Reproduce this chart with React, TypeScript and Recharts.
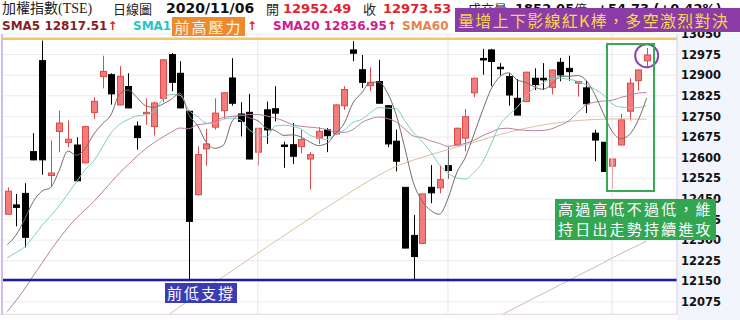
import React from "react";
import {
  ComposedChart,
  Bar,
  Line,
  XAxis,
  YAxis,
  CartesianGrid,
  ReferenceLine,
  ReferenceDot,
} from "recharts";

// trading days, 2020/07/22 .. 2020/11/06
const dates = [
  "07/22", "07/23", "07/24", "07/27", "07/28", "07/29", "07/30", "07/31",
  "08/03", "08/04", "08/05", "08/06", "08/07", "08/10", "08/11", "08/12", "08/13", "08/14",
  "08/17", "08/18", "08/19", "08/20", "08/21", "08/24", "08/25", "08/26", "08/27", "08/28", "08/31",
  "09/01", "09/02", "09/03", "09/04", "09/07", "09/08", "09/09", "09/10", "09/11", "09/14", "09/15",
  "09/16", "09/17", "09/18", "09/21", "09/22", "09/23", "09/24", "09/25", "09/28", "09/29", "09/30",
  "10/05", "10/06", "10/07", "10/08", "10/12", "10/13", "10/14", "10/15", "10/16", "10/19", "10/20",
  "10/21", "10/22", "10/23", "10/26", "10/27", "10/28", "10/29", "10/30",
  "11/02", "11/03", "11/04", "11/05", "11/06",
];

const opens = [
  12394, 12428, 12470, 12622, 12953, 12535, 12695, 12655, 12646, 12581,
  12764, 12895, 12902, 12792, 12859, 12715, 12762, 12713, 12816, 12975,
  12907, 12769, 12465, 12632, 12711, 12771, 12890, 12759, 12765, 12620,
  12774, 12778, 12646, 12647, 12640, 12595, 12671, 12701, 12686, 12789,
  12992, 12920, 12862, 12877, 12789, 12660, 12492, 12317, 12288, 12492,
  12490, 12571, 12646, 12671, 12836, 12961, 12992, 12929, 12895, 12816,
  12804, 12889, 12889, 12856, 12947, 12925, 12871, 12854, 12689, 12656,
  12569, 12646, 12769, 12880, 12952.49,
];
const highs = [
  12492, 12468, 12507, 12689, 13026, 12662, 12771, 12735, 12674, 12716,
  12820, 12971, 12907, 12933, 12907, 12732, 12816, 12804, 12959, 12981,
  12951, 12771, 12641, 12705, 12816, 12838, 12962, 12802, 12832, 12708,
  12804, 12860, 12658, 12726, 12702, 12620, 12711, 12708, 12794, 12860,
  13024, 12974, 12929, 12956, 12790, 12702, 12493, 12391, 12469, 12573,
  12573, 12638, 12709, 12777, 12891, 12996, 12996, 12944, 12907, 12886,
  12913, 12925, 12944, 12921, 12963, 12971, 12879, 12880, 12701, 12657,
  12597, 12759, 12889, 12921, 12999,
];
const lows = [
  12394, 12350, 12273, 12590, 12538, 12492, 12620, 12638, 12513, 12579,
  12741, 12852, 12793, 12790, 12780, 12629, 12720, 12681, 12802, 12842,
  12780, 12155, 12463, 12571, 12702, 12741, 12789, 12677, 12594, 12571,
  12650, 12732, 12563, 12577, 12616, 12484, 12650, 12620, 12684, 12774,
  12951, 12854, 12842, 12797, 12638, 12550, 12270, 12155, 12286, 12434,
  12470, 12523, 12644, 12623, 12820, 12902, 12860, 12899, 12789, 12754,
  12802, 12846, 12846, 12830, 12878, 12880, 12822, 12762, 12587, 12550,
  12486, 12645, 12735, 12844, 12931,
];
const closes = [
  12478, 12419, 12310, 12592, 12592, 12544, 12726, 12667, 12516, 12713,
  12805, 12914, 12832, 12896, 12781, 12673, 12765, 12799, 12956, 12874,
  12781, 12368, 12611, 12650, 12762, 12836, 12798, 12732, 12595, 12707,
  12701, 12762, 12641, 12605, 12666, 12611, 12696, 12680, 12792, 12848,
  12980, 12874, 12874, 12798, 12650, 12587, 12271, 12240, 12468, 12472,
  12520, 12553, 12707, 12749, 12889, 12956, 12950, 12924, 12828, 12755,
  12911, 12866, 12883, 12919, 12901, 12913, 12877, 12796, 12664, 12550,
  12595, 12738, 12871, 12919, 12973.53,
];

const sma5 = [
  12283, 12318, 12375, 12440, 12478, 12491, 12553, 12624, 12609, 12633,
  12685, 12723, 12756, 12832, 12846, 12819, 12789, 12783, 12795, 12813,
  12835, 12756, 12718, 12657, 12634, 12645, 12731, 12756, 12745, 12734,
  12707, 12699, 12681, 12683, 12675, 12657, 12644, 12652, 12689, 12725,
  12799, 12835, 12874, 12875, 12835, 12757, 12636, 12509, 12443, 12408,
  12394, 12451, 12544, 12600, 12684, 12771, 12850, 12894, 12909, 12883,
  12874, 12857, 12849, 12867, 12896, 12896, 12899, 12881, 12830, 12760,
  12696, 12669, 12684, 12735, 12817.51,
];
const sma10 = [
  12235, 12255, 12275, 12312, 12352, 12388, 12425, 12468, 12512, 12556,
  12588, 12638, 12690, 12721, 12739, 12752, 12756, 12769, 12813, 12830,
  12827, 12773, 12750, 12726, 12724, 12740, 12744, 12737, 12701, 12684,
  12676, 12715, 12718, 12714, 12704, 12682, 12672, 12666, 12686, 12700,
  12728, 12739, 12763, 12782, 12780, 12778, 12735, 12691, 12659, 12621,
  12575, 12543, 12527, 12522, 12546, 12583, 12650, 12719, 12755, 12783,
  12822, 12854, 12871, 12888, 12889, 12885, 12878, 12865, 12849, 12828,
  12796, 12784, 12782, 12782, 12789.7,
];
const sma20 = [
  12040, 12080, 12122, 12170, 12215, 12262, 12305, 12345, 12380, 12410,
  12440, 12475, 12510, 12545, 12575, 12605, 12632, 12655, 12675, 12693,
  12708, 12705, 12720, 12723, 12732, 12746, 12750, 12753, 12757, 12757,
  12752, 12744, 12734, 12720, 12714, 12711, 12708, 12702, 12693, 12692,
  12702, 12727, 12741, 12748, 12742, 12730, 12704, 12679, 12673, 12661,
  12652, 12641, 12645, 12652, 12663, 12680, 12693, 12705, 12707, 12702,
  12699, 12698, 12699, 12705, 12718, 12734, 12764, 12792, 12802, 12806,
  12809, 12819, 12827, 12835, 12836.95,
];
const sma60 = [
  null, null, null, null, null, null, null, null, null, null,
  null, null, null, null, null, null, 11960, 11985, 12010, 12035,
  12058, 12080, 12102, 12124, 12146, 12167, 12188, 12210, 12231, 12253,
  12274, 12295, 12316, 12337, 12358, 12379, 12400, 12420, 12440, 12460,
  12480, 12500, 12518, 12536, 12553, 12568, 12580, 12591, 12601, 12611,
  12620, 12629, 12638, 12647, 12656, 12665, 12675, 12684, 12692, 12700,
  12707, 12713, 12719, 12724, 12728, 12732, 12735, 12737, 12739, 12740,
  12741, 12741, 12741, 12740, 12740,
];
const sma120 = [
  null, null, null, null, null, null, null, null, null, null,
  null, null, null, null, null, null, null, null, null, null,
  null, null, null, null, null, null, null, null, null, null,
  null, null, null, null, null, null, null, null, null, null,
  null, null, null, null, null, null, null, null, null, null,
  null, null, null, null, null, null, null, 12024, 12041, 12057,
  12073, 12090, 12105, 12121, 12138, 12153, 12170, 12186, 12201, 12218,
  12235, 12250, 12266, 12281, 12297,
];

const priceTicks = [
  12075, 12150, 12225, 12300, 12375, 12450, 12525, 12600, 12675, 12750,
  12825, 12900, 12975, 13050,
];
const monthStarts = ["09/01", "10/05", "11/02"];
const prevHigh = 13033;
const prevLow = 12155;

const data = dates.map((date, i) => ({
  date,
  open: opens[i],
  high: highs[i],
  low: lows[i],
  close: closes[i],
  range: [lows[i], highs[i]],
  sma5: sma5[i],
  sma10: sma10[i],
  sma20: sma20[i],
  sma60: sma60[i],
  sma120: sma120[i],
}));

const UP_FILL = "#f37b7b";
const UP_EDGE = "#df4848";

// one candlestick: the bar spans low..high, open/close placed inside it
const Candle = (props: any) => {
  const { x, y, width, height, payload } = props;
  if (x == null || y == null) return null;
  const top = Math.min(y, y + height);
  const h = Math.abs(height);
  const { open, close, high, low } = payload;
  const k = h / (high - low || 1);
  const yOpen = top + (high - open) * k;
  const yClose = top + (high - close) * k;
  const up = close >= open;
  const cx = Math.round(x + width / 2) + 0.5;
  const bodyTop = Math.min(yOpen, yClose);
  const bodyH = Math.max(Math.abs(yOpen - yClose), 1.5);
  return (
    <g>
      <line x1={cx} x2={cx} y1={top} y2={top + h} stroke={up ? UP_EDGE : "#000"} strokeWidth={1} />
      <rect
        x={cx - 3}
        y={bodyTop}
        width={6}
        height={bodyH}
        fill={up ? UP_FILL : "#000"}
        stroke={up ? UP_EDGE : "#000"}
        strokeWidth={1}
      />
    </g>
  );
};

const cjk = "'Noto Sans CJK TC', 'Noto Sans CJK SC', sans-serif";
const serif = "'Liberation Serif', 'Noto Sans CJK TC', serif";
const bold = "'DejaVu Sans', Verdana, sans-serif";

const abs = (left: number, top: number, extra: React.CSSProperties = {}): React.CSSProperties => ({
  position: "absolute",
  left,
  top,
  whiteSpace: "nowrap",
  ...extra,
});

const row1: React.CSSProperties = { lineHeight: "17px", color: "#222" };

const numStyle = (color: string, size = 13): React.CSSProperties => ({
  fontFamily: bold,
  fontWeight: "bold",
  fontSize: size,
  lineHeight: "17px",
  color,
});

const maStyle = (color: string): React.CSSProperties => ({
  fontFamily: bold,
  fontWeight: "bold",
  fontSize: 12,
  lineHeight: "16px",
  color,
});

const Arrow = () => <span style={{ color: "#e3201c", fontFamily: bold }}>↑</span>;

export default function App() {
  return (
    <div
      style={{
        position: "absolute",
        left: 0,
        top: 0,
        width: 740,
        height: 320,
        background: "#fff",
        overflow: "hidden",
      }}
    >
      {/* price scale panel */}
      <div style={abs(677, 33, { width: 63, height: 287, background: "#f2f5fc" })} />
      <div style={abs(1, 34, { width: 2, height: 280, background: "#cfbdee" })} />
      <div style={abs(0, 314, { width: 677, height: 1, background: "#e8cde0" })} />

      <div style={{ position: "absolute", left: 0, top: 0 }}>
        <ComposedChart
          width={740}
          height={320}
          data={data}
          margin={{ top: 34, right: 0, bottom: 6, left: 3 }}
        >
          <CartesianGrid vertical={false} stroke="#ebebf0" />
          <XAxis dataKey="date" hide padding={{ left: 0, right: 26 }} />
          <YAxis
            orientation="right"
            width={63}
            domain={[12031, 13050]}
            ticks={priceTicks}
            allowDataOverflow
            interval={0}
            tickSize={0}
            tickMargin={4}
            axisLine={{ stroke: "#d4cce6" }}
            tick={{ fill: "#111", fontSize: 11.5, fontWeight: "bold", fontFamily: bold }}
          />
          {monthStarts.map((d) => (
            <ReferenceLine key={d} x={d} stroke="#e6e6ec" />
          ))}
          <Bar dataKey="range" barSize={7} shape={<Candle />} isAnimationActive={false} />
          <Line type="monotone" dataKey="sma120" stroke="#c7b9cb" strokeWidth={1} dot={false} isAnimationActive={false} />
          <Line type="monotone" dataKey="sma60" stroke="#dcbf9f" strokeWidth={1} dot={false} isAnimationActive={false} />
          <Line type="monotone" dataKey="sma20" stroke="#b87fa4" strokeWidth={1} dot={false} isAnimationActive={false} />
          <Line type="monotone" dataKey="sma10" stroke="#7fcdc4" strokeWidth={1} dot={false} isAnimationActive={false} />
          <Line type="monotone" dataKey="sma5" stroke="#7a6a6c" strokeWidth={1} dot={false} isAnimationActive={false} />
          <ReferenceLine y={prevHigh} stroke="#f3c566" strokeWidth={2.5} />
          <ReferenceLine y={prevLow} stroke="#1c1ca2" strokeWidth={2.5} />
          <ReferenceDot
            x={dates[dates.length - 1]}
            y={12971}
            r={11.5}
            fill="none"
            stroke="#8c42ab"
            strokeWidth={2}
          />
        </ComposedChart>
      </div>

      {/* header, row 1 */}
      <div style={abs(2, 0, { ...row1, fontFamily: serif, fontSize: 14 })}>加權指數(TSE)</div>
      <div style={abs(113, 0, { ...row1, fontFamily: cjk, fontSize: 13 })}>日線圖</div>
      <div style={abs(166, 0, numStyle("#111", 14))}>2020/11/06</div>
      <div style={abs(266, 0, { ...row1, fontFamily: cjk, fontSize: 13 })}>開</div>
      <div style={abs(283, 0, numStyle("#e5212b"))}>12952.49</div>
      <div style={abs(363, 0, { ...row1, fontFamily: cjk, fontSize: 13 })}>收</div>
      <div style={abs(383, 0, numStyle("#e5212b"))}>12973.53</div>
      <div style={abs(468, 0, { ...row1, fontFamily: cjk, fontSize: 13 })}>成交量</div>
      <div style={abs(515, 0, numStyle("#111"))}>1852.05</div>
      <div style={abs(574, 0, { ...row1, fontFamily: cjk, fontSize: 13 })}>億</div>
      <div style={abs(597, 0, numStyle("#111"))}>+54.73 (+0.42%)</div>

      {/* header, row 2: moving averages */}
      <div style={abs(2, 18, maStyle("#8b1c1f"))}>
        SMA5 12817.51<Arrow />
      </div>
      <div style={abs(133, 18, { ...maStyle("#27c3c6"), width: 39, overflow: "hidden" })}>SMA10</div>
      <div style={abs(247, 18, maStyle("#e3201c"))}>↑</div>
      <div style={abs(273, 18, maStyle("#d2198e"))}>
        SMA20 12836.95<Arrow />
      </div>
      <div style={abs(402, 18, maStyle("#e8834b"))}>SMA60</div>

      {/* notes */}
      <div
        style={abs(172, 17, {
          width: 73,
          height: 19,
          background: "#ef8a2b",
          color: "#fff4e6",
          fontFamily: cjk,
          fontSize: 15,
          lineHeight: "19px",
          letterSpacing: 2,
          textAlign: "center",
        })}
      >
        前高壓力
      </div>
      <div
        style={abs(455, 8, {
          width: 285,
          height: 24,
          background: "#8c3ca6",
          color: "#f6d84a",
          fontFamily: cjk,
          fontSize: 16,
          lineHeight: "24px",
          letterSpacing: 1.3,
          paddingLeft: 3,
          boxSizing: "border-box",
        })}
      >
        量增上下影線紅K棒，多空激烈對決
      </div>
      <div
        style={abs(165, 283, {
          width: 72,
          height: 20,
          background: "#3b3bb4",
          color: "#fff",
          fontFamily: cjk,
          fontSize: 15,
          lineHeight: "20px",
          letterSpacing: 2,
          textAlign: "center",
        })}
      >
        前低支撐
      </div>
      <div
        style={abs(606, 43, {
          width: 49,
          height: 149,
          border: "2px solid #3aa957",
          boxSizing: "border-box",
        })}
      />
      <div
        style={abs(555, 199, {
          width: 161,
          height: 41,
          background: "#33a652",
          color: "#fff",
          fontFamily: cjk,
          fontSize: 15,
          lineHeight: "20px",
          letterSpacing: 2.2,
          paddingLeft: 3,
          boxSizing: "border-box",
        })}
      >
        <div>高過高低不過低，維</div>
        <div>持日出走勢持續進攻</div>
      </div>
    </div>
  );
}
